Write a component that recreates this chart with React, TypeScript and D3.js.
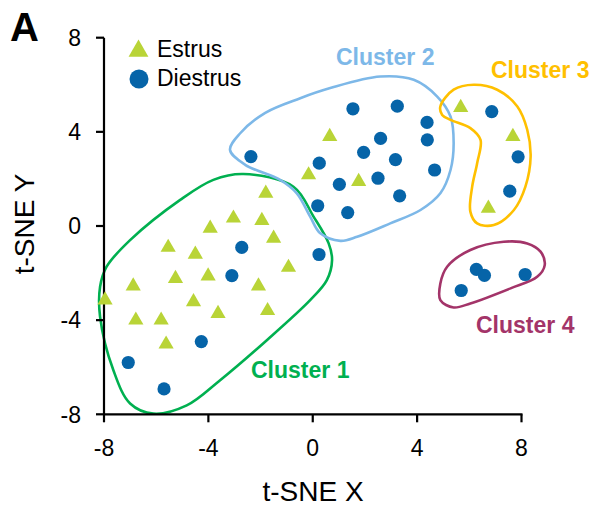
import React from "react";
import * as d3 from "d3";

// t-SNE coordinates per sample group
const estrusX = [-1.80, -3.04, -1.95, -3.93, -1.50, -5.54, -4.50, -0.93, -5.26, -4.01, -6.88, -2.08, -7.96, -4.57, -3.63, -1.73, -6.78, -5.81, -5.62, 0.65, -0.16, 1.76, 5.67, 7.67, 6.73];
const estrusY = [1.39, 0.33, 0.23, -0.10, -0.52, -0.91, -1.20, -1.76, -2.23, -2.13, -2.55, -2.55, -3.15, -3.22, -3.72, -3.60, -4.0, -4.0, -5.02, 3.80, 2.17, 1.89, 5.03, 3.80, 0.75];

const diestrusX = [-2.72, -3.10, 0.24, -4.27, -7.07, -5.70, -2.37, 1.54, 3.24, 4.38, 4.39, 2.60, 1.95, 3.17, 0.25, 4.67, 1.02, 2.50, 3.33, 0.19, 1.34, 6.86, 7.87, 7.55, 6.27, 6.58, 8.14, 5.69];
const diestrusY = [-0.91, -2.11, -1.21, -4.91, -5.80, -6.92, 2.95, 4.98, 5.09, 4.40, 3.66, 3.72, 3.13, 2.82, 2.67, 2.38, 1.77, 2.03, 1.28, 0.86, 0.57, 4.86, 2.94, 1.48, -1.84, -2.10, -2.06, -2.74];

const xTicks = [-8, -4, 0, 4, 8];
const yTicks = [-8, -4, 0, 4, 8];

// Cluster outlines (closed curves through these t-SNE positions)
const cluster1Outline: [number, number][] = [
  [-2.66, 2.21], [-0.74, 1.67], [0.03, 0.40], [0.61, -0.74], [0.74, -1.45], [0.54, -2.30],
  [-0.10, -3.15], [-1.76, -4.85], [-3.55, -6.55], [-4.83, -7.62], [-6.11, -7.97], [-7.00, -7.54],
  [-7.64, -6.13], [-8.15, -3.86], [-8.15, -2.58], [-7.90, -1.73], [-7.00, -0.60], [-5.08, 1.11], [-3.81, 1.96],
];
const cluster2Outline: [number, number][] = [
  [-0.48, 5.43], [0.67, 5.86], [2.59, 6.35], [3.87, 6.21], [4.77, 5.50], [5.28, 4.65], [5.40, 3.52],
  [5.28, 2.38], [4.89, 1.39], [4.13, 0.68], [2.97, 0.11], [1.70, -0.46], [1.06, -0.63], [0.29, -0.31],
  [-0.10, 0.40], [-0.61, 1.39], [-1.25, 1.96], [-2.59, 2.60], [-3.17, 3.23], [-2.78, 3.94], [-1.82, 4.81],
];
const cluster3Outline: [number, number][] = [
  [4.89, 5.08], [5.40, 5.79], [6.17, 6.00], [7.07, 5.79], [7.84, 5.08], [8.22, 4.09], [8.35, 2.95],
  [8.15, 1.67], [7.71, 0.68], [6.94, 0.04], [6.30, 0.11], [6.04, 0.61], [6.11, 1.67], [6.30, 2.67],
  [6.43, 3.66], [6.04, 4.16], [5.28, 4.51], [4.96, 4.72],
];
const cluster4Outline: [number, number][] = [
  [4.89, -2.44], [5.15, -1.73], [6.04, -1.02], [7.32, -0.67], [8.22, -0.74], [8.73, -1.09],
  [8.89, -1.66], [8.60, -2.16], [7.58, -2.65], [6.04, -3.29], [5.40, -3.46], [4.89, -3.15],
];

const clusterNames = ["Cluster 1", "Cluster 2", "Cluster 3", "Cluster 4"];
const clusterColors = ["#00B050", "#7DB8E8", "#FFC000", "#A33469"];

const ESTRUS = "#B9D437";
const DIESTRUS = "#0664A8";
const FONT = "Arial, 'Liberation Sans', Helvetica, sans-serif";

export default function App() {
  const W = 594;
  const H = 510;
  const x = d3.scaleLinear().domain([-8, 8]).range([104, 521.5]);
  const y = d3.scaleLinear().domain([-8, 8]).range([414.3, 37.7]);

  const outline = d3
    .line<[number, number]>()
    .x((d) => x(d[0]))
    .y((d) => y(d[1]))
    .curve(d3.curveCatmullRomClosed.alpha(0.5));

  const tri = d3.symbol().type(d3.symbolTriangle).size(100)() as string;
  const triLegend = d3.symbol().type(d3.symbolTriangle).size(170)() as string;

  const outlines = [cluster1Outline, cluster2Outline, cluster3Outline, cluster4Outline];
  const labelPos = [
    { x: 251, y: 378 },
    { x: 336, y: 65 },
    { x: 491, y: 78 },
    { x: 476, y: 333 },
  ];

  return (
    <svg
      width={W}
      height={H}
      style={{ position: "absolute", left: 0, top: 0, background: "#fff" }}
      fontFamily={FONT}
    >
      <rect width={W} height={H} fill="#fff" />

      {/* panel letter */}
      <text x={10} y={41} fontSize={40} fontWeight="bold" fill="#000">A</text>

      {/* cluster outlines */}
      {outlines.map((o, i) => (
        <path key={i} d={outline(o) as string} fill="none" stroke={clusterColors[i]} strokeWidth={2.6} />
      ))}

      {/* axes */}
      <line x1={x(-8)} x2={x(8) + 1} y1={y(-8)} y2={y(-8)} stroke="#000" strokeWidth={2.2} />
      <line x1={x(-8)} x2={x(-8)} y1={y(-8) + 1} y2={y(8)} stroke="#000" strokeWidth={2.2} />
      {xTicks.map((t) => (
        <g key={"x" + t}>
          <line x1={x(t)} x2={x(t)} y1={y(-8)} y2={y(-8) + 8} stroke="#000" strokeWidth={2.2} />
          <text x={x(t)} y={456} textAnchor="middle" fontSize={23} fill="#000">{t}</text>
        </g>
      ))}
      {yTicks.map((t) => (
        <g key={"y" + t}>
          <line x1={x(-8) - 8} x2={x(-8)} y1={y(t)} y2={y(t)} stroke="#000" strokeWidth={2.2} />
          <text x={81} y={y(t) + 8.3} textAnchor="end" fontSize={23} fill="#000">{t}</text>
        </g>
      ))}
      <text x={313} y={501} textAnchor="middle" fontSize={28} fill="#000">t-SNE X</text>
      <text
        transform={`translate(34, 224) rotate(-90)`}
        textAnchor="middle"
        fontSize={28}
        fill="#000"
      >
        t-SNE Y
      </text>

      {/* data points */}
      {estrusX.map((v, i) => (
        <path key={"e" + i} d={tri} transform={`translate(${x(v)},${y(estrusY[i])})`} fill={ESTRUS} />
      ))}
      {diestrusX.map((v, i) => (
        <circle key={"d" + i} cx={x(v)} cy={y(diestrusY[i])} r={6.6} fill={DIESTRUS} />
      ))}

      {/* cluster labels */}
      {clusterNames.map((n, i) => (
        <text key={n} x={labelPos[i].x} y={labelPos[i].y} fontSize={23} fontWeight="bold" fill={clusterColors[i]}>
          {n}
        </text>
      ))}

      {/* legend */}
      <path d={triLegend} transform="translate(138.5,51)" fill={ESTRUS} />
      <text x={157} y={57} fontSize={23} fill="#000">Estrus</text>
      <circle cx={139} cy={79} r={9.5} fill={DIESTRUS} />
      <text x={157} y={86} fontSize={23} fill="#000">Diestrus</text>
    </svg>
  );
}
